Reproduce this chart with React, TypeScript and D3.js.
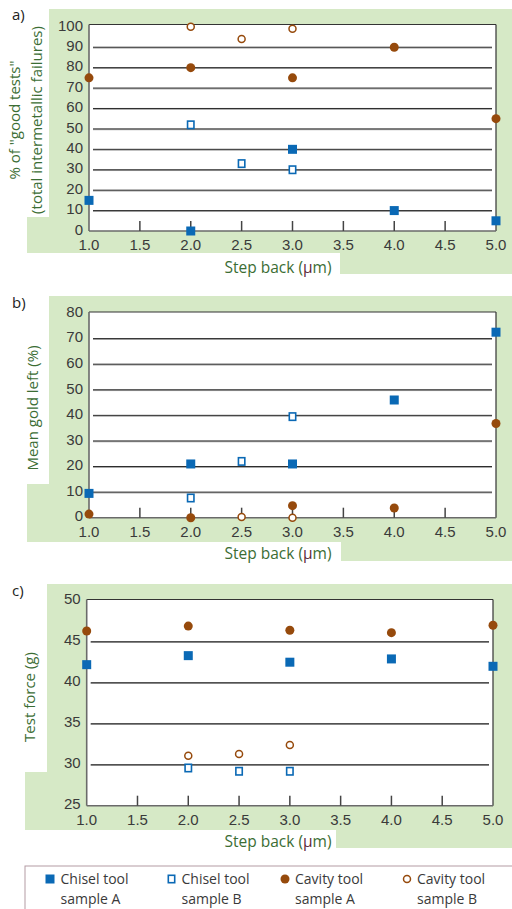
import React from "react";
import * as d3 from "d3";

// ---------- data ----------
const xTicks = [1.0, 1.5, 2.0, 2.5, 3.0, 3.5, 4.0, 4.5, 5.0];

// Panel a: % of "good tests"
const aChiselA = [[1.0, 15], [2.0, 0], [3.0, 40], [4.0, 10], [5.0, 5]];
const aChiselB = [[2.0, 52], [2.5, 33], [3.0, 30]];
const aCavityA = [[1.0, 75], [2.0, 80], [3.0, 75], [4.0, 90], [5.0, 55]];
const aCavityB = [[2.0, 100], [2.5, 94], [3.0, 99]];
const aYTicks = [0, 10, 20, 30, 40, 50, 60, 70, 80, 90, 100];

// Panel b: mean gold left
const bChiselA = [[1.0, 9.5], [2.0, 21], [3.0, 21], [4.0, 46], [5.0, 72.5]];
const bChiselB = [[2.0, 7.7], [2.5, 22], [3.0, 39.5]];
const bCavityA = [[1.0, 1.4], [2.0, 0], [3.0, 4.7], [4.0, 3.8], [5.0, 36.8]];
const bCavityB = [[2.5, 0.3], [3.0, 0]];
const bYTicks = [0, 10, 20, 30, 40, 50, 60, 70, 80];

// Panel c: test force
const cChiselA = [[1.0, 42.2], [2.0, 43.3], [3.0, 42.5], [4.0, 42.9], [5.0, 42.0]];
const cChiselB = [[2.0, 29.6], [2.5, 29.2], [3.0, 29.2]];
const cCavityA = [[1.0, 46.3], [2.0, 46.9], [3.0, 46.4], [4.0, 46.1], [5.0, 47.0]];
const cCavityB = [[2.0, 31.1], [2.5, 31.3], [3.0, 32.4]];
const cYTicks = [25, 30, 35, 40, 45, 50];

const legendLabels = [
  ["Chisel tool", "sample A"],
  ["Chisel tool", "sample B"],
  ["Cavity tool", "sample A"],
  ["Cavity tool", "sample B"],
];

// ---------- styles ----------
const BLUE = "#0a69b5";
const BROWN = "#964a0c";
const GREEN_BG = "#d6e9c6";
const GREEN_TXT = "#3b6d34";
const TICK_TXT = "#3a3a3a";
const FONT = "'Open Sans', 'Noto Sans', sans-serif";
const TICK_FONT = "'Liberation Sans', Arial, sans-serif";

type Pt = number[];

function Marker({ kind, x, y }: { kind: number; x: number; y: number }) {
  if (kind === 0) return <rect x={x - 4.5} y={y - 4.5} width={9} height={9} fill={BLUE} />;
  if (kind === 1)
    return <rect x={x - 3.2} y={y - 3.7} width={6.4} height={7.4} fill="#fff" stroke={BLUE} strokeWidth={1.6} />;
  if (kind === 2) return <circle cx={x} cy={y} r={4.5} fill={BROWN} />;
  return <circle cx={x} cy={y} r={3.5} fill="#fff" stroke={BROWN} strokeWidth={1.5} />;
}

interface PanelProps {
  label: string;
  labelY: number;
  bg: { top: number; notchX: number; notchY: number; leftX: number; leftBottom: number; boxRight: number; rightBottom: number };
  left: number;
  right: number;
  frameTop: number;
  y0: number;
  yMaxPx: number;
  yTicks: number[];
  series: Pt[][];
  yTitle: string[];
  yTitleX: number[];
  yTitleY: number;
}

function Panel(p: PanelProps) {
  const yDomain = d3.extent(p.yTicks) as [number, number];
  const x = d3.scaleLinear().domain([1, 5]).range([p.left, p.right]);
  const y = d3.scaleLinear().domain(yDomain).range([p.y0, p.yMaxPx]);
  const b = p.bg;
  const poly = [
    [b.notchX, b.top], [512, b.top], [512, b.rightBottom], [b.boxRight, b.rightBottom],
    [b.boxRight, b.leftBottom], [b.leftX, b.leftBottom], [b.leftX, b.notchY], [b.notchX, b.notchY],
  ];
  const gridTicks = p.yTicks.slice(1, -1);
  return (
    <g>
      <polygon points={poly.map((q) => q.join(",")).join(" ")} fill={GREEN_BG} />
      <text x={12} y={p.labelY} fontSize={15} fill="#222" fontFamily={FONT}>{p.label}</text>
      <rect x={p.left} y={p.frameTop} width={p.right - p.left} height={p.y0 - p.frameTop} fill="#fff" />
      {gridTicks.map((t) => (
        <g key={t}>
          <line x1={p.left + 4} x2={p.right - 4} y1={y(t) + 0.8} y2={y(t) + 0.8} stroke="#9a9a9a" strokeWidth={1} />
          <line x1={p.left + 4} x2={p.right - 4} y1={y(t)} y2={y(t)} stroke="#2a2a2a" strokeWidth={1} />
        </g>
      ))}
      {/* frame */}
      <line x1={p.left} x2={p.right} y1={p.frameTop} y2={p.frameTop} stroke="#333" strokeWidth={1.2} />
      <line x1={p.right} x2={p.right} y1={p.frameTop} y2={p.y0} stroke="#333" strokeWidth={1.2} />
      <line x1={p.left} x2={p.left} y1={p.frameTop} y2={p.y0} stroke="#6a6a6a" strokeWidth={1.6} />
      <line x1={p.left} x2={p.right} y1={p.y0} y2={p.y0} stroke="#6a6a6a" strokeWidth={1.6} />
      {xTicks.slice(1, -1).map((t) => (
        <line key={t} x1={x(t)} x2={x(t)} y1={p.y0} y2={p.y0 - 10} stroke="#444" strokeWidth={1.5} />
      ))}
      {p.yTicks.map((t) => (
        <text key={t} x={p.left - 6} y={y(t) - 1.5} dy="0.35em" textAnchor="end" fontSize={15} fill={TICK_TXT} fontFamily={TICK_FONT}>
          {t}
        </text>
      ))}
      {xTicks.map((t) => (
        <text key={t} x={x(t)} y={p.y0 + 19} textAnchor="middle" fontSize={15} fill={TICK_TXT} fontFamily={TICK_FONT}>
          {d3.format(".1f")(t)}
        </text>
      ))}
      <text x={278} y={p.y0 + 41.5} textAnchor="middle" fontSize={15.5} fill={GREEN_TXT} fontFamily={FONT}>
        Step back (<tspan fill="#5e2a3c">μ</tspan>m)
      </text>
      {p.yTitle.map((s, i) => (
        <text key={i} transform={`translate(${p.yTitleX[i]},${p.yTitleY}) rotate(-90)`} dy="0.35em" textAnchor="middle"
          fontSize={15} fill={GREEN_TXT} fontFamily={FONT}>{s}</text>
      ))}
      {[3, 2, 1, 0].map((k) =>
        (p.series[k] || []).map((d, i) => <Marker key={`${k}-${i}`} kind={k} x={x(d[0])} y={y(d[1])} />)
      )}
    </g>
  );
}

export default function App() {
  return (
    <svg width={512} height={909} style={{ position: "absolute", left: 0, top: 0 }}>
      <rect width={512} height={909} fill="#fff" />
      <Panel
        label="a)" labelY={20}
        bg={{ top: 9, notchX: 49, notchY: 217, leftX: 27, leftBottom: 253, boxRight: 340, rightBottom: 274 }}
        left={89} right={496} frameTop={24.5} y0={231} yMaxPx={26.8}
        yTicks={aYTicks} series={[aChiselA, aChiselB, aCavityA, aCavityB]}
        yTitle={['% of "good tests"', "(total intermetallic failures)"]} yTitleX={[15, 37]} yTitleY={120}
      />
      <Panel
        label="b)" labelY={308}
        bg={{ top: 296, notchX: 49, notchY: 484, leftX: 27, leftBottom: 542, boxRight: 341, rightBottom: 561 }}
        left={89} right={496} frameTop={312} y0={517.7} yMaxPx={313}
        yTicks={bYTicks} series={[bChiselA, bChiselB, bCavityA, bCavityB]}
        yTitle={["Mean gold left (%)"]} yTitleX={[33]} yTitleY={408}
      />
      <Panel
        label="c)" labelY={596}
        bg={{ top: 584, notchX: 47, notchY: 772, leftX: 25, leftBottom: 830, boxRight: 336, rightBottom: 848 }}
        left={86.7} right={493} frameTop={599.5} y0={805.7} yMaxPx={600.7}
        yTicks={cYTicks} series={[cChiselA, cChiselB, cCavityA, cCavityB]}
        yTitle={["Test force (g)"]} yTitleX={[30]} yTitleY={697}
      />
      {/* legend */}
      <rect x={25} y={866} width={500} height={60} fill="#fff" stroke="#b39ba3" strokeWidth={1} />
      {legendLabels.map((lab, i) => {
        const mx = [50, 171.5, 285, 407][i];
        const tx = [60.5, 181.5, 295, 417][i];
        return (
          <g key={i}>
            <Marker kind={i} x={mx} y={879} />
            <text x={tx} y={884} fontSize={14} fill={TICK_TXT} fontFamily={FONT}>{lab[0]}</text>
            <text x={tx} y={904} fontSize={14} fill={TICK_TXT} fontFamily={FONT}>{lab[1]}</text>
          </g>
        );
      })}
    </svg>
  );
}
